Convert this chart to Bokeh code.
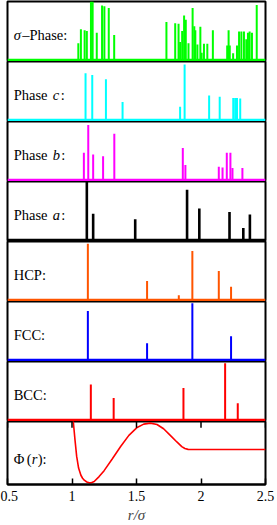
from bokeh.plotting import figure
from bokeh.models import Range1d, Span, Label, FixedTicker
from bokeh.layouts import column
from bokeh.embed import file_html
from bokeh.resources import INLINE

# ---- data ----
sigma_r = [1.049, 1.069, 1.098, 1.115, 1.147, 1.160, 1.192, 1.233, 1.251, 1.285, 1.327,
           1.732, 1.800, 1.826, 1.838, 1.854, 1.869, 1.882, 1.903, 1.935, 1.948, 1.956,
           1.972, 1.995, 2.005, 2.023, 2.049, 2.092, 2.203, 2.214, 2.223, 2.249, 2.279,
           2.295, 2.313, 2.333, 2.351, 2.364, 2.377, 2.395, 2.432]
sigma_h = [0.29, 0.53, 0.51, 0.50, 1.00, 1.00, 0.47, 0.93, 0.92, 0.89, 0.43,
           0.65, 0.63, 0.62, 0.31, 0.50, 0.76, 0.69, 0.29, 0.89, 0.58, 0.51,
           0.27, 0.57, 0.13, 0.28, 0.28, 0.51, 0.25, 0.51, 0.25, 0.12, 0.25,
           0.49, 0.49, 0.49, 0.36, 0.47, 0.49, 0.47, 0.94]

c_r = [1.105, 1.157, 1.263, 1.392, 1.838, 1.873, 2.063, 2.145, 2.250, 2.265, 2.279, 2.304]
c_h = [0.80, 0.77, 0.70, 0.31, 0.23, 0.95, 0.42, 0.40, 0.38, 0.38, 0.38, 0.37]

b_r = [1.092, 1.126, 1.164, 1.241, 1.328, 1.859, 1.879, 2.138, 2.167, 2.200, 2.228, 2.244, 2.321]
b_h = [0.47, 0.94, 0.44, 0.41, 0.79, 0.55, 0.26, 0.23, 0.22, 0.47, 0.47, 0.21, 0.21]

a_r = [1.115, 1.164, 1.490, 1.892, 1.987, 2.221, 2.328, 2.379]
a_h = [1.00, 0.45, 0.36, 0.86, 0.54, 0.48, 0.21, 0.44]

hcp_r = [1.123, 1.582, 1.828, 1.933, 2.138, 2.233]
hcp_h = [0.96, 0.33, 0.085, 0.84, 0.50, 0.23]

fcc_r = [1.123, 1.582, 1.933, 2.233]
fcc_h = [0.84, 0.29, 0.97, 0.41]

bcc_r = [1.146, 1.323, 1.864, 2.187, 2.285]
bcc_h = [0.61, 0.38, 0.55, 0.97, 0.29]

phi_r = [1.000, 1.010, 1.023, 1.036, 1.051, 1.069, 1.082, 1.095, 1.115, 1.133, 1.150,
         1.172, 1.210, 1.249, 1.313, 1.377, 1.441, 1.505, 1.556, 1.608, 1.659, 1.710,
         1.762, 1.813, 1.851, 1.875, 1.900, 1.930, 2.000, 2.500]
phi_v = [1.30, 0.85, 0.30, -0.20, -0.56, -0.78, -0.87, -0.93, -0.985, -1.01, -1.005,
         -0.97, -0.82, -0.64, -0.28, 0.09, 0.43, 0.67, 0.77, 0.80, 0.76, 0.63,
         0.43, 0.23, 0.09, 0.03, 0.005, 0.0, 0.0, 0.0]

x_ticks = [0.5, 1.0, 1.5, 2.0, 2.5]
x_tick_labels = ["0.5", "1", "1.5", "2", "2.5"]

FONT = "Liberation Serif"
FS = "14.5px"

panels = [
    (sigma_r, sigma_h, "#00ff00", 2.0, [("\u03c3", "italic", 0), ("\u2013Phase:", "normal", 8.5)]),
    (c_r, c_h, "#00ffff", 2.0, [("Phase ", "normal", 0), ("c", "italic", 39), (":", "normal", 47)]),
    (b_r, b_h, "#ff00ff", 2.0, [("Phase ", "normal", 0), ("b", "italic", 39), (":", "normal", 47.5)]),
    (a_r, a_h, "#000000", 2.6, [("Phase ", "normal", 0), ("a", "italic", 39), (":", "normal", 47.5)]),
    (hcp_r, hcp_h, "#ff5500", 2.0, [("HCP:", "normal", 0)]),
    (fcc_r, fcc_h, "#0000ff", 2.0, [("FCC:", "normal", 0)]),
    (bcc_r, bcc_h, "#ff0000", 2.0, [("BCC:", "normal", 0)]),
]

x_range = Range1d(0.5, 2.5)
W = 277
PANEL_H = 60
LEFT, RIGHT = 7, 12
figs = []

def add_labels(p, y, pieces):
    for t, style, off in pieces:
        p.add_layout(Label(x=0.548, y=y, x_offset=off, text=t, text_font=FONT,
                           text_font_size=FS, text_font_style=style,
                           text_baseline="alphabetic", text_align="left",
                           text_color="black"))

for i, (rr, hh, col, lw, pieces) in enumerate(panels):
    top = 1 if i == 0 else 0
    p = figure(width=W, height=PANEL_H + top, x_range=x_range, y_range=Range1d(-0.02, 1.0),
               output_backend="svg", toolbar_location=None,
               x_axis_location=None, y_axis_location=None,
               min_border_left=LEFT, min_border_right=RIGHT, min_border_top=top,
               min_border_bottom=0,
               outline_line_color="black", outline_line_width=2)
    p.xgrid.visible = False
    p.ygrid.visible = False
    p.segment(x0=rr, y0=[0] * len(rr), x1=rr, y1=hh, line_color=col, line_width=lw)
    p.add_layout(Span(location=0, dimension="width", line_color=col, line_width=3))
    add_labels(p, 0.43, pieces)
    figs.append(p)

# potential panel
PHI_FRAME = 61
AXIS_H = 43
y0, y1 = -1.06, 0.85
p = figure(width=W, height=PHI_FRAME + AXIS_H, x_range=x_range, y_range=Range1d(y0, y1),
           output_backend="svg", toolbar_location=None, y_axis_location=None,
           min_border_left=LEFT, min_border_right=RIGHT, min_border_top=0, min_border_bottom=0,
           outline_line_color="black", outline_line_width=2)
p.xgrid.visible = False
p.ygrid.visible = False
p.line(phi_r, phi_v, line_color="#ff0000", line_width=1.6)
ax = p.xaxis[0]
ax.ticker = FixedTicker(ticks=x_ticks)
ax.major_label_overrides = {t: l for t, l in zip(x_ticks, x_tick_labels)}
ax.major_tick_in = 6
ax.major_tick_out = 0
ax.minor_tick_line_color = None
ax.major_tick_line_width = 1.5
ax.axis_line_width = 2
ax.major_label_text_font = FONT
ax.major_label_text_font_size = "14px"
ax.major_label_text_color = "black"
ax.major_label_standoff = 6
ax.axis_label = "r/\u03c3"
ax.axis_label_text_font = FONT
ax.axis_label_text_font_size = "15px"
ax.axis_label_text_font_style = "italic"
ax.axis_label_standoff = 3
# inward ticks along the top edge of this panel (mirroring the bottom axis ticks)
tick_len = 6 * (y1 - y0) / PHI_FRAME
p.segment(x0=x_ticks, y0=[y1] * len(x_ticks), x1=x_ticks, y1=[y1 - tick_len] * len(x_ticks),
          line_color="black", line_width=1.5)
add_labels(p, -0.28, [("\u03a6", "normal", 0), ("(", "normal", 13), ("r", "italic", 18), ("):", "normal", 24)])
figs.append(p)

layout = column(*figs, spacing=0)
open("out.html", "w").write(file_html(layout, INLINE))
